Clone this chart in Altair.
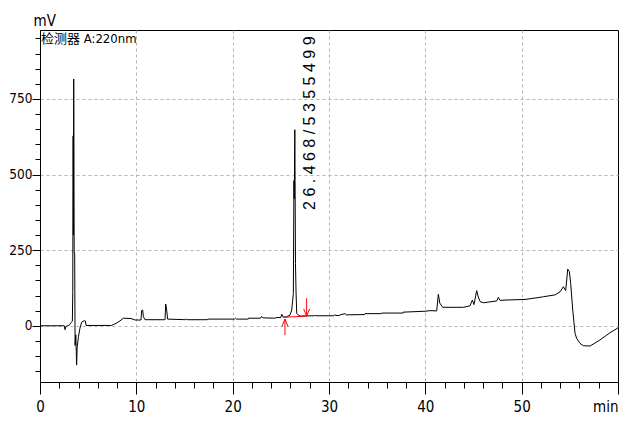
import altair as alt
import pandas as pd

# ---- chromatogram trace (retention time in min, signal in mV) ----
time_min = [
    0.0, 2.4, 2.5, 2.6, 2.7, 2.9, 3.1, 3.2, 3.36, 3.40, 3.44, 3.47, 3.50, 3.55,
    3.60, 3.64, 3.72, 3.80, 3.86, 4.0, 4.15, 4.33, 4.6, 4.7, 4.78, 7.44, 7.96,
    8.3, 8.65, 9.45, 9.86, 10.48, 10.55, 10.66, 10.73, 10.9, 12.9, 12.98, 13.05,
    13.15, 13.25, 15.1, 15.16, 15.25, 17.37, 17.4, 20.2, 20.3, 20.4, 21.62,
    21.65, 22.9, 23.0, 23.15, 24.4, 24.5, 25.0, 25.09, 25.26, 25.6, 25.95,
    26.13, 26.3, 26.36, 26.40, 26.45, 26.48, 26.52, 26.58, 26.65, 26.8, 27.0,
    28.5, 28.55, 28.65, 30.5, 30.6, 30.7, 31.1, 31.14, 31.66, 31.8, 33.7,
    33.74, 35.45, 35.47, 37.7, 37.71, 39.97, 40.49, 41.18, 41.35, 41.5, 41.8,
    43.95, 44.64, 44.88, 45.05, 45.33, 45.5, 45.68, 46.02, 47.41, 47.58, 47.75,
    48.27, 50.35, 51.9, 52.25, 53.46, 53.98, 54.33, 54.57, 54.78, 54.95, 55.09,
    55.3, 55.54, 55.71, 56.05, 56.4, 57.1, 58.13, 59.17, 60.0,
]
signal_mv = [
    0, 0, 1, -13, -2, 0, 4, 10, 15, 110, 628, 300, 816, 240,
    240, -65, -30, -130, -70, -35, -8, 12, 17, 16, 1, 1, 9,
    16, 25, 24, 19, 19, 50, 52, 30, 20, 20, 20, 72,
    52, 22, 20, 23, 20, 20, 22, 22, 25, 22, 22,
    25, 25, 31, 26, 25, 27, 27, 38, 28, 30, 35,
    52, 107, 480, 420, 648, 480, 206, 110, 41, 36, 32,
    33, 35, 33, 33, 37, 34, 34, 36, 40, 36, 37,
    40, 40, 42, 42, 45, 48, 50, 49, 104, 75, 61,
    61, 66, 85, 70, 116, 95, 80, 76, 82, 94, 84,
    85, 87, 94, 96, 102, 112, 129, 116, 187, 179, 140,
    52, -25, -42, -58, -66, -67, -47, -23, -7,
]

# ---- integration marks for the main peak ----
baseline_t = [25.26, 27.68]
baseline_mv = [28, 32]
arrow_t = [25.43, 27.68]
arrow_from_mv = [-31, 91]
arrow_to_mv = [22, 32]
arrow_dir = ["up", "down"]

peak_text = "2 6 . 4 6 8 / 5 3 5 5 4 9 9"
peak_text_t = [28.03]
peak_text_mv = [383]

detector_text = "检测器 A:220nm"

X_DOMAIN = [0, 60]
Y_DOMAIN = [-186, 978]

NARROW = "DejaVu Sans Condensed, Liberation Sans, sans-serif"
CJK = "DejaVu Sans Condensed, Noto Sans CJK SC, sans-serif"
GRID = "#b4b4b4"

trace = pd.DataFrame({"t": time_min, "mV": signal_mv})
base_df = pd.DataFrame({"t": baseline_t, "mV": baseline_mv})
arrow_df = pd.DataFrame({"t": arrow_t, "mV": arrow_from_mv, "mV2": arrow_to_mv, "dir": arrow_dir})
text_df = pd.DataFrame({"t": peak_text_t, "mV": peak_text_mv, "label": [peak_text]})
det_df = pd.DataFrame({"t": [X_DOMAIN[0]], "mV": [Y_DOMAIN[1]], "label": [detector_text]})

x_scale = alt.Scale(domain=X_DOMAIN, nice=False, zero=False)
y_scale = alt.Scale(domain=Y_DOMAIN, nice=False, zero=False)

x_axis = alt.Axis(
    values=list(range(0, 61, 2)),
    labelExpr="datum.value % 10 === 0 && datum.value < 60 ? datum.label : ''",
    tickSize={"condition": {"test": "datum.value % 10 === 0", "value": 12}, "value": 6},
    grid=True,
    gridOpacity={"condition": {"test": "datum.value % 10 === 0 && datum.value > 0 && datum.value < 60", "value": 1}, "value": 0},
    gridColor=GRID, gridDash=[3, 3], gridWidth=1,
    domainColor="black", tickColor="black", domainWidth=1, tickWidth=1,
    labelFont=NARROW, labelFontSize=15, labelColor="black", labelPadding=5,
    labelOverlap=False, labelFlush=False, labelBound=False,
    title="min", titleX=578, titleY=29, titleAlign="right", titleBaseline="alphabetic",
    titleFont=NARROW, titleFontSize=15, titleFontWeight="normal", titleColor="black",
)
y_axis = alt.Axis(
    values=list(range(-150, 951, 50)),
    labelExpr="datum.value % 250 === 0 ? datum.label : ''",
    tickSize={"condition": {"test": "datum.value % 250 === 0", "value": 8}, "value": 5},
    grid=True,
    gridOpacity={"condition": {"test": "datum.value % 250 === 0", "value": 1}, "value": 0},
    gridColor=GRID, gridDash=[3, 3], gridWidth=1,
    domainColor="black", tickColor="black", domainWidth=1, tickWidth=1,
    labelFont=NARROW, labelFontSize=13.5, labelColor="black", labelPadding=0,
    labelOverlap=False, labelBound=False,
    title="mV", titleAngle=0, titleX=-7, titleY=-5, titleAlign="left", titleBaseline="alphabetic",
    titleFont=NARROW, titleFontSize=15, titleFontWeight="normal", titleColor="black",
)

X = alt.X("t:Q", scale=x_scale, axis=x_axis)
Y = alt.Y("mV:Q", scale=y_scale, axis=y_axis)

line = alt.Chart(trace).mark_line(color="black", strokeWidth=1).encode(
    x=X, y=Y, order=alt.Order("t:Q"),
)

base = alt.Chart(base_df).mark_line(color="red", strokeWidth=1).encode(x=X, y=Y)

shafts = alt.Chart(arrow_df).mark_rule(color="red", strokeWidth=1).encode(
    x=X, y=Y, y2="mV2:Q",
)

UP = "M-0.5,1.2L0,0L0.5,1.2"
DOWN = "M-0.5,-1.2L0,0L0.5,-1.2"
heads = alt.Chart(arrow_df).transform_calculate(tip="datum.mV2").mark_point(
    color="red", filled=False, strokeWidth=1, size=144, opacity=1
).encode(
    x=X,
    y=alt.Y("tip:Q", scale=y_scale, axis=y_axis),
    shape=alt.Shape("dir:N", scale=alt.Scale(domain=["up", "down"], range=[UP, DOWN]), legend=None),
)

peak_label = alt.Chart(text_df).mark_text(
    angle=270, align="left", baseline="middle", font="Liberation Sans, sans-serif",
    fontSize=16, color="black",
).encode(x=X, y=Y, text="label:N")

det_label = alt.Chart(det_df).mark_text(
    align="left", baseline="top", dx=1, dy=3, font=CJK, fontSize=13, color="black",
).encode(x=X, y=Y, text="label:N")

chart = alt.layer(line, base, shafts, heads, peak_label, det_label).properties(
    width=578,
    height=352,
    autosize=alt.AutoSizeParams(type="none"),
    padding={"left": 32, "top": 22, "right": 4, "bottom": 32},
    background="white",
).configure_view(stroke="black", strokeWidth=1)

chart.save("out.html", embed_options={"renderer": "svg", "actions": False})
